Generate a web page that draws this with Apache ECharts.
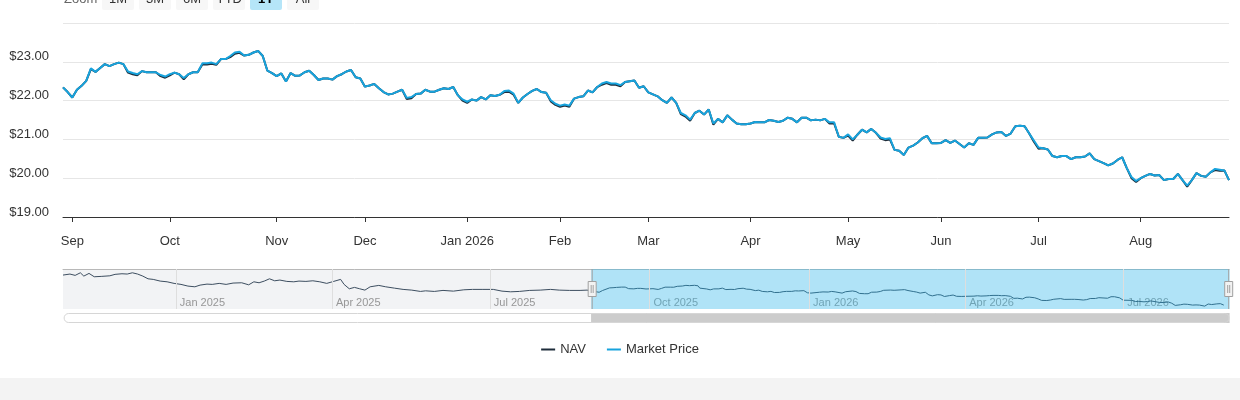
<!DOCTYPE html>
<html>
<head>
<meta charset="utf-8">
<script src="https://cdn.jsdelivr.net/npm/echarts@6.0.0/dist/echarts.min.js"></script>
<style>
html, body { margin: 0; padding: 0; background: #f3f3f3; }
#chart { width: 1240px; height: 378px; background: #fff; }
</style>
</head>
<body>
<div id="chart"></div>
<script>
// first trading day shown in the 1Y window, and market holidays skipped
var startDate = '2025-08-28';
var holidays = ['2025-09-01', '2025-11-27', '2025-12-25', '2026-01-01', '2026-01-19',
    '2026-02-16', '2026-04-03', '2026-05-25', '2026-06-19', '2026-07-03'];

// daily market price, 1Y window
var marketPrice = [
    22.34, 22.22, 22.08, 22.28, 22.38, 22.51, 22.83, 22.74, 22.84, 22.94,
    22.89, 22.94, 22.98, 22.94, 22.75, 22.71, 22.68, 22.76, 22.73, 22.73,
    22.73, 22.66, 22.62, 22.68, 22.72, 22.68, 22.58, 22.68, 22.73, 22.73,
    22.96, 22.96, 22.98, 22.94, 23.07, 23.07, 23.15, 23.24, 23.26, 23.16,
    23.18, 23.24, 23.28, 23.15, 22.77, 22.71, 22.63, 22.70, 22.49, 22.71,
    22.64, 22.65, 22.73, 22.77, 22.66, 22.53, 22.57, 22.57, 22.54, 22.63,
    22.68, 22.75, 22.79, 22.60, 22.57, 22.36, 22.39, 22.43, 22.32, 22.22,
    22.16, 22.18, 22.23, 22.28, 22.07, 22.09, 22.17, 22.18, 22.28, 22.23,
    22.23, 22.28, 22.32, 22.30, 22.35,
    22.14, 22.03, 21.97, 22.03, 22.00, 22.09, 22.03, 22.14, 22.12, 22.15,
    22.25, 22.26, 22.18, 21.94, 22.08, 22.17, 22.25, 22.30, 22.22, 22.20,
    22.01, 21.92, 21.87, 21.90, 21.87, 22.05, 22.09, 22.11, 22.26, 22.21,
    22.35, 22.44, 22.48, 22.44, 22.44, 22.40, 22.48, 22.50, 22.52, 22.33,
    22.37, 22.21, 22.16, 22.11, 22.01, 21.94, 22.08, 21.94, 21.68, 21.62,
    21.51, 21.68, 21.74, 21.64, 21.77, 21.41, 21.53, 21.44, 21.62, 21.51,
    21.41, 21.39, 21.39, 21.41, 21.45, 21.44, 21.44, 21.50, 21.48, 21.45,
    21.48, 21.56, 21.53, 21.44, 21.56, 21.56, 21.49, 21.51, 21.49, 21.53,
    21.44, 21.44, 21.07,
    21.04, 21.13, 21.00, 21.12, 21.25, 21.18, 21.27, 21.17, 21.05, 21.01,
    21.03, 20.73, 20.71, 20.60, 20.79, 20.84, 20.92, 21.03, 21.09, 20.90,
    20.90, 20.91, 20.98, 20.91, 20.97, 20.88, 20.79, 20.90, 20.86, 21.04,
    21.04, 21.05, 21.13, 21.18, 21.19, 21.09, 21.15, 21.34, 21.35, 21.34,
    21.15, 20.97, 20.79, 20.77, 20.74, 20.57, 20.54, 20.57, 20.57, 20.49,
    20.54, 20.54, 20.56, 20.64, 20.49, 20.44, 20.39, 20.33, 20.38, 20.47,
    20.54, 20.26, 20.03, 19.93, 20.00, 20.06, 20.11, 20.07, 20.08, 19.95,
    19.98, 19.98, 20.11, 19.95, 19.81, 19.95, 20.13, 20.06, 20.04, 20.15,
    20.24, 20.22, 20.20, 19.95
];

// daily NAV, same window
var nav = [
    22.34, 22.22, 22.08, 22.28, 22.38, 22.51, 22.81, 22.74, 22.84, 22.94,
    22.89, 22.94, 22.98, 22.94, 22.72, 22.68, 22.65, 22.76, 22.73, 22.73,
    22.73, 22.63, 22.59, 22.65, 22.72, 22.68, 22.55, 22.68, 22.73, 22.73,
    22.93, 22.93, 22.95, 22.92, 23.07, 23.07, 23.12, 23.21, 23.23, 23.16,
    23.18, 23.24, 23.28, 23.15, 22.77, 22.71, 22.63, 22.70, 22.49, 22.71,
    22.64, 22.65, 22.73, 22.77, 22.66, 22.53, 22.57, 22.57, 22.54, 22.63,
    22.68, 22.75, 22.79, 22.60, 22.57, 22.36, 22.39, 22.43, 22.32, 22.22,
    22.16, 22.18, 22.23, 22.28, 22.04, 22.06, 22.17, 22.18, 22.28, 22.23,
    22.23, 22.28, 22.32, 22.30, 22.35,
    22.14, 22.00, 21.94, 22.03, 22.00, 22.09, 22.03, 22.14, 22.12, 22.15,
    22.22, 22.23, 22.15, 21.94, 22.08, 22.17, 22.25, 22.30, 22.22, 22.20,
    21.98, 21.89, 21.84, 21.87, 21.84, 22.05, 22.09, 22.11, 22.26, 22.21,
    22.35, 22.41, 22.45, 22.41, 22.41, 22.37, 22.48, 22.50, 22.52, 22.33,
    22.37, 22.21, 22.16, 22.11, 22.01, 21.94, 22.08, 21.94, 21.65, 21.59,
    21.48, 21.68, 21.74, 21.64, 21.77, 21.38, 21.53, 21.44, 21.62, 21.51,
    21.41, 21.39, 21.39, 21.41, 21.45, 21.44, 21.44, 21.50, 21.48, 21.45,
    21.48, 21.56, 21.53, 21.44, 21.56, 21.56, 21.49, 21.51, 21.49, 21.53,
    21.41, 21.41, 21.07,
    21.04, 21.10, 20.97, 21.12, 21.25, 21.18, 21.27, 21.17, 21.02, 20.98,
    21.00, 20.73, 20.71, 20.60, 20.79, 20.84, 20.92, 21.03, 21.09, 20.90,
    20.90, 20.91, 20.98, 20.91, 20.97, 20.88, 20.79, 20.90, 20.86, 21.04,
    21.04, 21.05, 21.13, 21.18, 21.19, 21.09, 21.15, 21.34, 21.35, 21.34,
    21.15, 20.94, 20.76, 20.77, 20.74, 20.57, 20.54, 20.57, 20.57, 20.49,
    20.54, 20.54, 20.56, 20.64, 20.49, 20.44, 20.39, 20.33, 20.38, 20.47,
    20.54, 20.26, 20.00, 19.90, 20.00, 20.06, 20.11, 20.07, 20.08, 19.95,
    19.98, 19.98, 20.11, 19.95, 19.78, 19.95, 20.13, 20.06, 20.04, 20.15,
    20.21, 20.19, 20.20, 19.95
];

// older NAV history, only seen in the navigator
var historyDates = ['2024-10-28', '2024-11-01', '2024-11-04', '2024-11-07', '2024-11-09', '2024-11-12', '2024-11-15', '2024-11-19', '2024-11-24', '2024-11-27',
    '2024-12-01', '2024-12-04', '2024-12-07', '2024-12-10', '2024-12-13', '2024-12-16', '2024-12-19', '2024-12-23', '2024-12-27', '2024-12-31',
    '2025-01-04', '2025-01-08', '2025-01-12', '2025-01-15', '2025-01-19', '2025-01-22', '2025-01-26', '2025-01-30',
    '2025-02-03', '2025-02-08', '2025-02-12', '2025-02-15', '2025-02-18', '2025-02-21', '2025-02-24', '2025-02-27',
    '2025-03-02', '2025-03-06', '2025-03-10', '2025-03-13', '2025-03-17', '2025-03-21', '2025-03-25', '2025-03-29',
    '2025-04-02', '2025-04-06', '2025-04-08', '2025-04-11', '2025-04-14', '2025-04-17', '2025-04-20', '2025-04-23', '2025-04-28',
    '2025-05-02', '2025-05-07', '2025-05-12', '2025-05-17', '2025-05-22', '2025-05-25', '2025-05-30',
    '2025-06-04', '2025-06-10', '2025-06-16', '2025-06-21', '2025-06-27',
    '2025-07-03', '2025-07-08', '2025-07-13', '2025-07-18', '2025-07-24', '2025-07-30',
    '2025-08-05', '2025-08-10', '2025-08-16', '2025-08-22', '2025-08-26'];
var historyNav = [24.94, 25.11, 24.89, 25.32, 24.77, 25.22, 24.66, 24.72, 24.82, 25.06,
    25.16, 25.11, 25.32, 25.11, 24.77, 24.32, 24.22, 23.94, 23.82, 23.56,
    23.39, 23.11, 22.99, 23.27, 23.44, 23.39, 23.56, 23.39,
    23.61, 23.66, 23.32, 23.82, 23.66, 23.94, 24.32, 23.99,
    24.11, 23.89, 23.82, 23.94, 23.89, 23.99, 23.82, 23.56,
    23.89, 24.22, 23.39, 22.66, 22.89, 22.66, 22.44, 22.99, 23.22,
    22.99, 22.77, 22.56, 22.44, 22.22, 22.32, 22.22,
    22.39, 22.27, 22.49, 22.56, 22.56,
    22.56, 22.27, 22.16, 22.22, 22.39, 22.44,
    22.56, 22.44, 22.39, 22.39, 22.44];

var navigatorRange = ['2024-10-28', '2026-08-31'];
var navigatorTicks = ['2025-01-01', '2025-04-01', '2025-07-01', '2025-10-01', '2026-01-01', '2026-04-01', '2026-07-01'];
var navigatorMin = 19.3;
var navigatorMax = 25.95;
var rangeButtons = ['1M', '3M', '6M', 'YTD', '1Y', 'All'];
var selectedButton = '1Y';
var monthNames = ['Jan', 'Feb', 'Mar', 'Apr', 'May', 'Jun', 'Jul', 'Aug', 'Sep', 'Oct', 'Nov', 'Dec'];

var FONT = '"Liberation Sans", Arial, Helvetica, sans-serif';

function pad(n) {
    return n < 10 ? '0' + n : '' + n;
}

function ts(s) {
    var p = s.split('-');
    return new Date(+p[0], +p[1] - 1, +p[2]).getTime();
}

// trading days from startDate, one per value
function tradingDays(start, count) {
    var out = [];
    var d = new Date(ts(start));
    while (out.length < count) {
        var s = d.getFullYear() + '-' + pad(d.getMonth() + 1) + '-' + pad(d.getDate());
        var wd = d.getDay();
        if (wd !== 0 && wd !== 6 && holidays.indexOf(s) < 0) {
            out.push(s);
        }
        d.setDate(d.getDate() + 1);
    }
    return out;
}

var dates = tradingDays(startDate, marketPrice.length);

// tick on the first trading day of every month
function isMonthStart(index) {
    return index > 0 && dates[index].slice(0, 7) !== dates[index - 1].slice(0, 7);
}

var navigatorData = historyDates.map(function (d, i) {
    return [ts(d), historyNav[i]];
}).concat(dates.map(function (d, i) {
    return [ts(d), nav[i]];
}));

// range selector buttons above the plot
var buttonGraphics = [{
    type: 'text',
    x: 64,
    y: -1,
    style: { text: 'Zoom', fill: '#666', font: '13px ' + FONT, align: 'left', verticalAlign: 'middle' }
}];
rangeButtons.forEach(function (label, i) {
    var bx = 102 + i * 37;
    var on = label === selectedButton;
    buttonGraphics.push({
        type: 'rect',
        shape: { x: bx, y: -12, width: 32, height: 22, r: 2 },
        style: { fill: on ? '#b5e5f8' : '#f7f7f7' }
    });
    buttonGraphics.push({
        type: 'text',
        x: bx + 16,
        y: -1,
        style: {
            text: label,
            fill: on ? '#000' : '#333',
            font: (on ? 'bold ' : '') + '13px ' + FONT,
            align: 'center',
            verticalAlign: 'middle'
        }
    });
});

var handlePath = 'path://M4.5,0 L4.5,12.5 M0.5,12.5 L8.5,12.5 L8.5,27.5 L0.5,27.5 Z M3.5,16 L3.5,24 M5.5,16 L5.5,24 M4.5,27.5 L4.5,40';

var chart = echarts.init(document.getElementById('chart'));

var option = {
    animation: false,
    textStyle: { fontFamily: FONT },
    graphic: buttonGraphics,
    legend: {
        data: ['NAV', 'Market Price'],
        top: 338,
        left: 'center',
        icon: 'rect',
        itemWidth: 14,
        itemHeight: 2,
        itemGap: 21,
        textStyle: { color: '#333', fontSize: 13 }
    },
    grid: [
        { left: 63, right: 11, top: 23, bottom: 161 },
        { left: 63, right: 11, top: 269, height: 40, show: true, backgroundColor: '#f2f3f5', borderWidth: 0 }
    ],
    xAxis: [
        {
            type: 'category',
            gridIndex: 0,
            data: dates,
            boundaryGap: false,
            axisLine: { lineStyle: { color: '#333' } },
            axisTick: { interval: isMonthStart, length: 5, lineStyle: { color: '#333' } },
            axisLabel: {
                interval: isMonthStart,
                color: '#333',
                fontSize: 13,
                margin: 18,
                formatter: function (value) {
                    var m = +value.slice(5, 7);
                    return m === 1 ? monthNames[0] + ' ' + value.slice(0, 4) : monthNames[m - 1];
                }
            },
            splitLine: { show: false }
        },
        {
            type: 'time',
            gridIndex: 1,
            min: ts(navigatorRange[0]),
            max: ts(navigatorRange[1]),
            axisLine: { show: false },
            axisTick: { show: false },
            axisLabel: { show: false },
            splitLine: { show: false }
        },
        {
            // driven by the navigator sliders
            type: 'time',
            gridIndex: 1,
            position: 'top',
            min: ts(navigatorRange[0]),
            max: ts(navigatorRange[1]),
            axisLine: { show: true, lineStyle: { color: '#b8b8b8' } },
            axisTick: { show: false },
            axisLabel: { show: false },
            splitLine: { show: false }
        }
    ],
    yAxis: [
        {
            type: 'value',
            gridIndex: 0,
            min: 19,
            max: 24,
            interval: 1,
            axisLine: { show: false },
            axisTick: { show: false },
            axisLabel: {
                showMaxLabel: false,
                color: '#333',
                fontSize: 13,
                margin: 14,
                verticalAlign: 'bottom',
                lineHeight: 10,
                formatter: function (v) {
                    return '$' + v.toFixed(2);
                }
            },
            splitLine: { lineStyle: { color: '#e6e6e6' } }
        },
        {
            type: 'value',
            gridIndex: 1,
            min: navigatorMin,
            max: navigatorMax,
            show: false
        }
    ],
    dataZoom: [
        {
            type: 'slider',
            xAxisIndex: 2,
            filterMode: 'none',
            left: 63,
            right: 11,
            top: 269,
            height: 40,
            startValue: ts(startDate),
            endValue: ts(navigatorRange[1]),
            showDataShadow: false,
            showDetail: false,
            brushSelect: false,
            backgroundColor: 'rgba(0,0,0,0)',
            borderColor: 'rgba(0,0,0,0)',
            borderRadius: 0,
            fillerColor: 'rgba(22,193,252,0.3)',
            handleIcon: handlePath,
            handleSize: '100%',
            handleStyle: { color: '#f2f2f2', borderColor: '#a0a0a0', borderWidth: 1 },
            moveHandleSize: 0,
            moveHandleStyle: { opacity: 0 },
            emphasis: { handleStyle: { color: '#f2f2f2', borderColor: '#a0a0a0' }, moveHandleStyle: { opacity: 0 } }
        },
        {
            type: 'slider',
            xAxisIndex: 2,
            filterMode: 'none',
            left: 63,
            right: 11,
            top: 313,
            height: 10,
            startValue: ts(startDate),
            endValue: ts(navigatorRange[1]),
            showDataShadow: false,
            showDetail: false,
            brushSelect: false,
            backgroundColor: '#fff',
            borderColor: '#d6d6d6',
            borderRadius: 5,
            fillerColor: '#cccccc',
            handleIcon: 'path://M0,0 L1,0 L1,10 L0,10 Z',
            handleSize: '100%',
            handleStyle: { opacity: 0 },
            moveHandleSize: 0,
            moveHandleStyle: { opacity: 0 },
            emphasis: { handleStyle: { opacity: 0 }, moveHandleStyle: { opacity: 0 } }
        }
    ],
    series: [
        {
            name: 'NAV',
            type: 'line',
            xAxisIndex: 0,
            yAxisIndex: 0,
            data: nav,
            color: '#1e2d3b',
            showSymbol: false,
            lineStyle: { width: 2 }
        },
        {
            name: 'Market Price',
            type: 'line',
            xAxisIndex: 0,
            yAxisIndex: 0,
            data: marketPrice,
            color: '#17a3dd',
            showSymbol: false,
            lineStyle: { width: 2 }
        },
        {
            name: 'navigator',
            type: 'line',
            xAxisIndex: 1,
            yAxisIndex: 1,
            data: navigatorData,
            showSymbol: false,
            silent: true,
            lineStyle: { color: '#3d4e60', width: 1 },
            markLine: {
                silent: true,
                symbol: ['none', 'none'],
                label: { show: false },
                lineStyle: { color: '#dedede', type: 'solid', width: 1 },
                data: navigatorTicks.map(function (d) {
                    return { xAxis: ts(d) };
                })
            }
        },
        {
            // quarter labels along the navigator bottom
            name: 'navigatorLabels',
            type: 'scatter',
            xAxisIndex: 1,
            yAxisIndex: 1,
            silent: true,
            symbolSize: 0,
            data: navigatorTicks.map(function (d) {
                return [ts(d), navigatorMin];
            }),
            label: {
                show: true,
                position: [4, -12],
                color: '#808080',
                fontSize: 11,
                formatter: function (p) {
                    var d = new Date(p.value[0]);
                    return monthNames[d.getMonth()] + ' ' + d.getFullYear();
                }
            }
        },
        {
            name: 'navigatorWindow',
            type: 'line',
            xAxisIndex: 2,
            yAxisIndex: 1,
            data: navigatorData,
            showSymbol: false,
            silent: true,
            lineStyle: { opacity: 0 }
        }
    ]
};

chart.setOption(option);
</script>
</body>
</html>
